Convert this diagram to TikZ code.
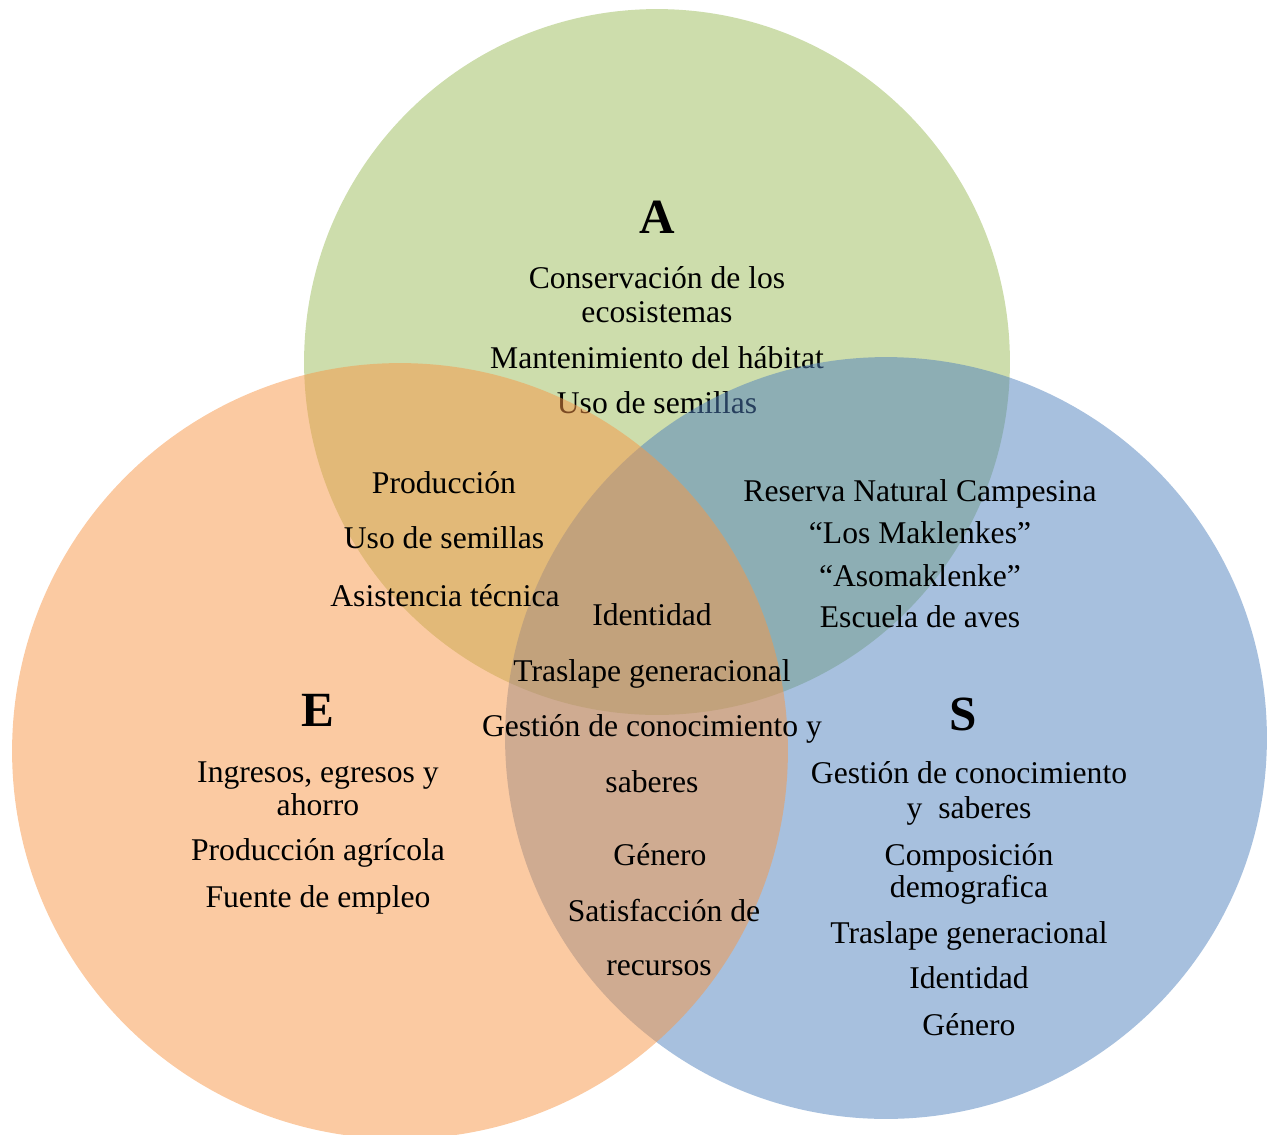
\documentclass[tikz,border=0pt]{standalone}
\usepackage{fontspec}
\setmainfont{Liberation Serif}
\usepackage{xcolor}
\usepackage{tikz}
\usetikzlibrary{positioning}

\definecolor{agreen}{RGB}{155,187,89}
\definecolor{sblue}{RGB}{79,129,189}
\definecolor{eorange}{RGB}{247,150,70}

\tikzstyle{ring}=[fill opacity=0.5,draw=none]
\tikzstyle{lbl}=[inner sep=0pt,anchor=base,font=\fontsize{18}{19.5}\selectfont]
\tikzstyle{ttl}=[inner sep=0pt,anchor=base,font=\fontsize{28}{30}\selectfont\bfseries]

\begin{document}
\begin{tikzpicture}[x=0.02cm,y=-0.02cm]
\useasboundingbox (0,0) rectangle (1269,1134);

%circle A
\fill[ring, agreen] (657,362) circle [radius=7.06cm];

%text A (lies under the other circles)
\node[ttl] (ta) at (657,233) {A};
\node[lbl] (a1) at (657,288) {Conservación de los};
\node[lbl] (a2) at (657,322) {ecosistemas};
\node[lbl] (a3) at (657,368) {Mantenimiento del hábitat};
\node[lbl] (a4) at (657,413) {Uso de semillas};

%circle S
\fill[ring, sblue] (886,738) circle [radius=7.62cm];

%circle E
\fill[ring, eorange] (400,751) circle [radius=7.76cm];

%A and E
\node[lbl] (ae1) at (444,493) {Producción};
\node[lbl] (ae2) at (444,548) {Uso de semillas};
\node[lbl] (ae3) at (445,606) {Asistencia técnica};

%A and S
\node[lbl] (as1) at (920,501) {Reserva Natural Campesina};
\node[lbl] (as2) at (920,543) {“Los Maklenkes”};
\node[lbl] (as3) at (920,586) {“Asomaklenke”};
\node[lbl] (as4) at (920,627) {Escuela de aves};

%middle
\node[lbl] (m1) at (652,625) {Identidad};
\node[lbl] (m2) at (652,681) {Traslape generacional};
\node[lbl] (m3) at (652,736) {Gestión de conocimiento y};
\node[lbl] (m4) at (652,792) {saberes};
\node[lbl] (m5) at (660,865) {Género};
\node[lbl] (m6) at (664,921) {Satisfacción de};
\node[lbl] (m7) at (659,975) {recursos};

%E
\node[ttl] (te) at (318,726) {E};
\node[lbl] (e1) at (318,782) {Ingresos, egresos y};
\node[lbl] (e2) at (318,815) {ahorro};
\node[lbl] (e3) at (318,860) {Producción agrícola};
\node[lbl] (e4) at (318,907) {Fuente de empleo};

%S
\node[ttl] (ts) at (963,730) {S};
\node[lbl] (s1) at (969,783) {Gestión de conocimiento};
\node[lbl] (s2) at (969,818) {y~~saberes};
\node[lbl] (s3) at (969,865) {Composición};
\node[lbl] (s4) at (969,897) {demografica};
\node[lbl] (s5) at (969,943) {Traslape generacional};
\node[lbl] (s6) at (969,988) {Identidad};
\node[lbl] (s7) at (969,1035) {Género};

\end{tikzpicture}
\end{document}
